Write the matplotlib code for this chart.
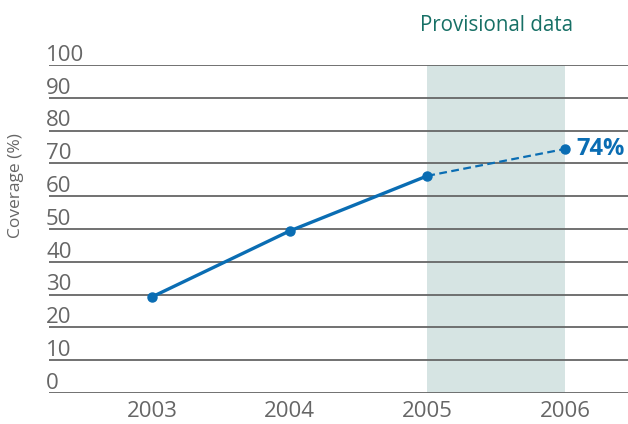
import matplotlib.pyplot as plt
from matplotlib import transforms

plt.rcParams['font.family'] = ['Open Sans', 'DejaVu Sans']

years = [2003, 2004, 2005, 2006]
coverage = [29.3, 49.4, 66.2, 74.4]
yticks = [0, 10, 20, 30, 40, 50, 60, 70, 80, 90, 100]
final_label = "74%"

blue = "#0a6db3"
grey = "#666666"

fig = plt.figure(figsize=(6.28, 4.24), dpi=100)
ax = fig.add_axes([0.078, 0.0731, 0.922, 0.7736])

ax.set_xlim(2002.252, 2006.458)
ax.set_ylim(0, 100)

# provisional shading
ax.axvspan(years[2], years[3], ymin=0, ymax=1, color="#d6e4e3", zorder=0, lw=0)

for v in yticks:
    ax.axhline(v, color=grey, lw=1.3, zorder=1)

trans = transforms.blended_transform_factory(ax.transAxes, ax.transData)
for v in yticks:
    ax.annotate(str(v), (-0.005, v), xycoords=trans, xytext=(0, 3),
                textcoords="offset points", ha="left", va="baseline",
                fontsize=16, color=grey, annotation_clip=False)

ax.plot(years[:3], coverage[:3], color=blue, lw=2.4, zorder=3)
ax.plot(years[2:], coverage[2:], color=blue, lw=1.6, ls=(0, (3.5, 2)), zorder=3)
ax.plot(years, coverage, 'o', color=blue, ms=6.5, zorder=4)

ax.annotate(final_label, (years[3], coverage[3]), xytext=(8, 0),
            textcoords="offset points", ha="left", va="center",
            fontsize=17, fontweight="bold", color=blue, annotation_clip=False)

ax.text((years[2] + years[3]) / 2, 1.105, "Provisional data",
        transform=transforms.blended_transform_factory(ax.transData, ax.transAxes),
        ha="center", va="baseline", fontsize=14.8, color="#177066")

ax.set_xticks(years)
ax.set_xticklabels([str(y) for y in years])
ax.tick_params(axis="x", length=0, pad=6, labelsize=16, labelcolor=grey)
ax.set_yticks([])
for s in ax.spines.values():
    s.set_visible(False)

fig.text(0.026, 0.5625, "Coverage (%)", rotation=90, ha="center", va="center",
         fontsize=12.5, color=grey)

fig.savefig("out.png", dpi=100)
